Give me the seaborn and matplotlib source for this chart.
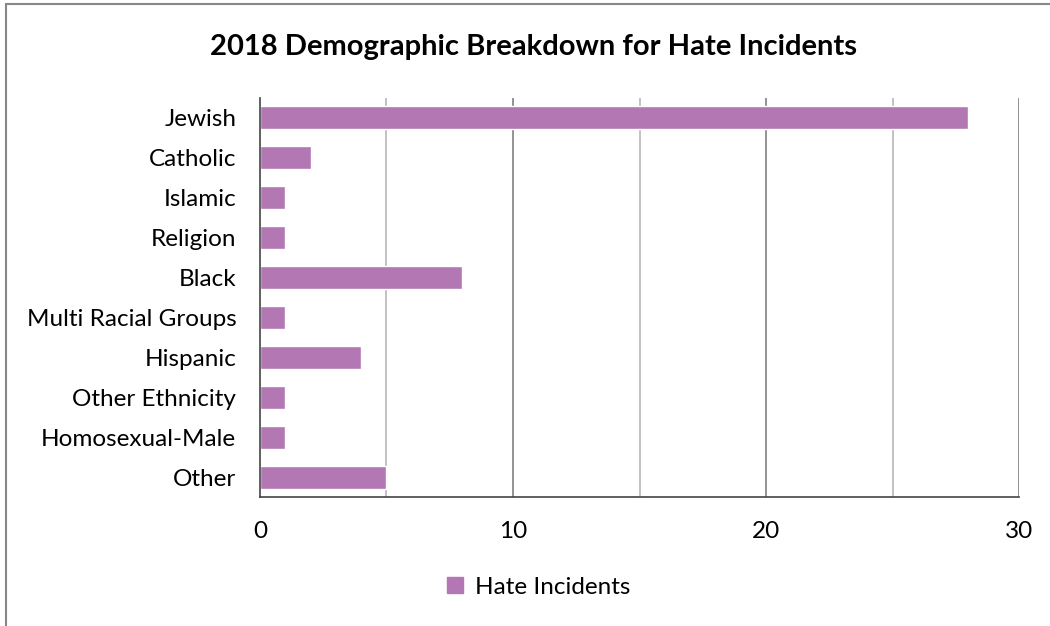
import matplotlib
matplotlib.use("Agg")
import matplotlib.pyplot as plt
import seaborn as sns
import pandas as pd
import numpy as np
from matplotlib.patches import Rectangle, Patch

categories = ["Jewish", "Catholic", "Islamic", "Religion", "Black",
              "Multi Racial Groups", "Hispanic", "Other Ethnicity",
              "Homosexual-Male", "Other"]
incidents = [28, 2, 1, 1, 8, 1, 4, 1, 1, 5]

df = pd.DataFrame({"Group": categories, "Hate Incidents": incidents})

sns.set_style("white")
plt.rcParams["font.family"] = ["Lato", "DejaVu Sans"]
plt.rcParams["text.color"] = "black"
plt.rcParams["xtick.labelcolor"] = "black"
plt.rcParams["ytick.labelcolor"] = "black"

bar_color = "#B377B3"

fig = plt.figure(figsize=(10.5, 6.26), dpi=100)
ax = fig.add_axes([0.2476, 0.206, 0.7229, 0.6375])

sns.barplot(data=df, y="Group", x="Hate Incidents", color=bar_color,
            width=0.58, saturation=1, ax=ax, orient="h")

# gridlines: majors darker, minors lighter
for v in [5, 15, 25]:
    ax.axvline(v, color="#bdbdbd", lw=1.3, zorder=0)
for v in [10, 20, 30]:
    ax.axvline(v, color="#8a8a8a", lw=1.3, zorder=0)

ax.set_xlim(0, 30)
ax.set_ylim(len(categories) - 0.5, -0.5)
ax.set_xticks([0, 10, 20, 30])
ax.set_xticklabels(["0", "10", "20", "30"], fontsize=17.5)
ax.set_yticks(range(len(categories)))
ax.set_yticklabels(categories, fontsize=17.5)
ax.set_yticks(np.arange(-0.5, len(categories)), minor=True)
ax.tick_params(axis="y", which="major", length=0, pad=17)
ax.tick_params(axis="y", which="minor", length=5, width=1.2, color="#444444", direction="out")
ax.tick_params(axis="x", which="major", length=6, width=1.2, color="#444444",
               direction="inout", pad=14)
ax.set_xlabel("")
ax.set_ylabel("")
for s in ["top", "right"]:
    ax.spines[s].set_visible(False)
for s in ["left", "bottom"]:
    ax.spines[s].set_color("#444444")
    ax.spines[s].set_linewidth(1.2)

fig.text(0.508, 0.925, "2018 Demographic Breakdown for Hate Incidents",
         ha="center", va="center", fontsize=21, fontweight="bold", color="black")

fig.legend(handles=[Patch(color=bar_color, label="Hate Incidents")],
           loc="center", bbox_to_anchor=(0.513, 0.062), frameon=False,
           fontsize=17.5, handlelength=0.65, handleheight=0.65, handletextpad=0.5)

# outer chart border
fig.patches.append(Rectangle((6 / 1050, -0.01), 1.2, 1 - 4 / 626 + 0.01,
                             transform=fig.transFigure, fill=False,
                             edgecolor="#888888", lw=1.5))

fig.savefig("out.png", dpi=100)
